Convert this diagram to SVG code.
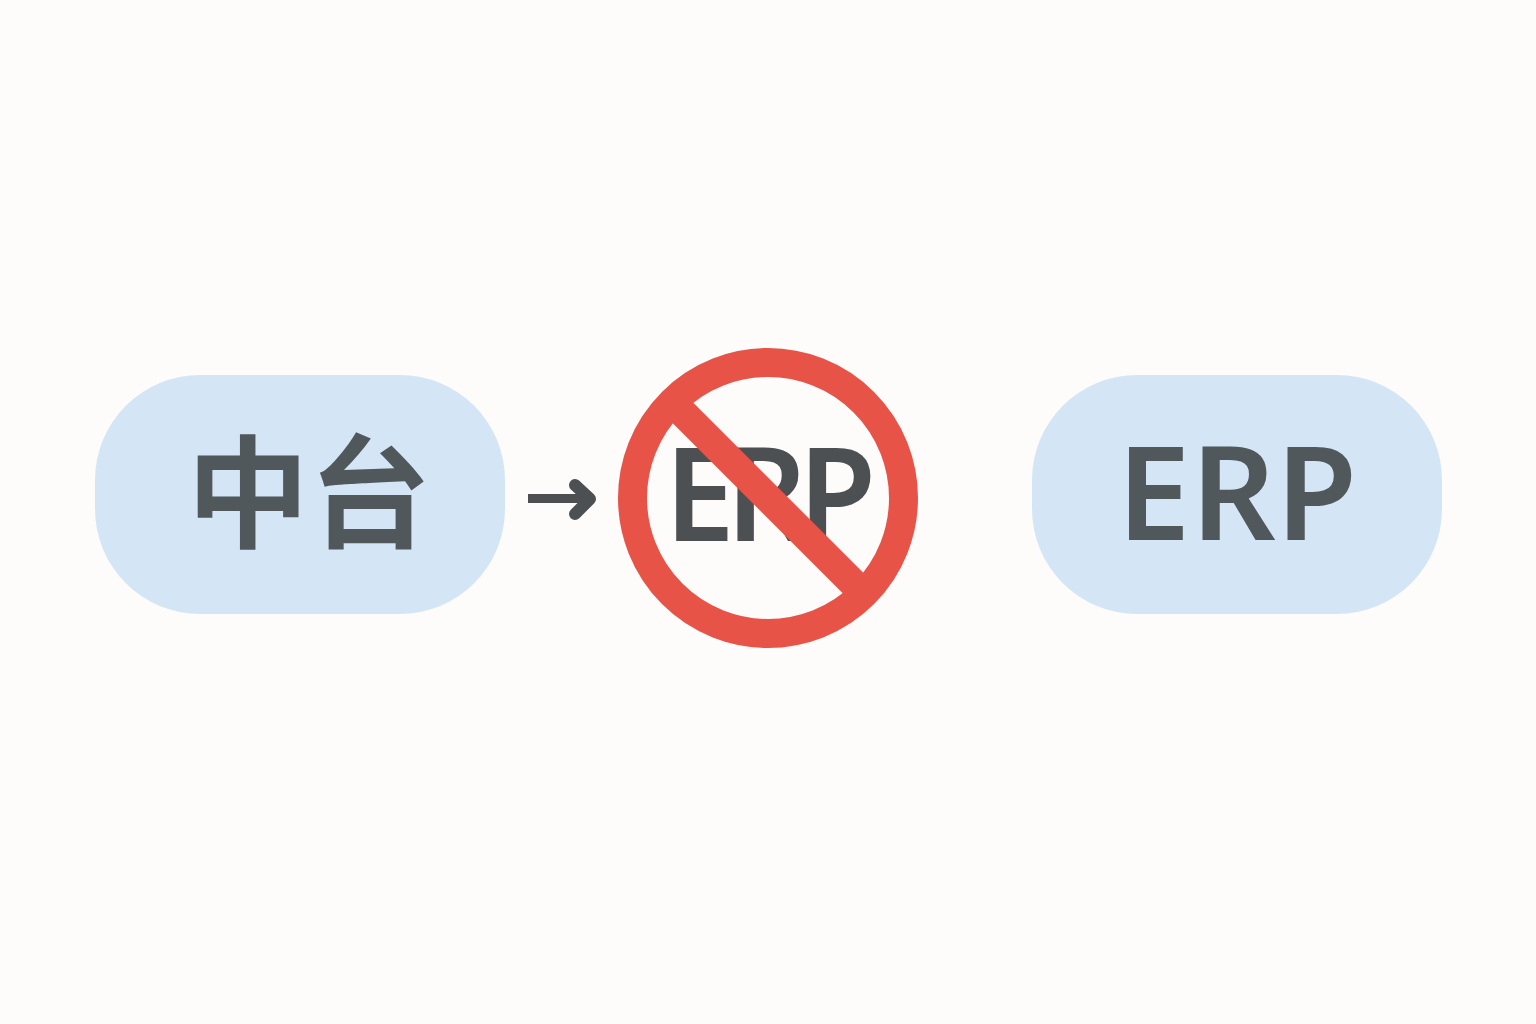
<svg xmlns="http://www.w3.org/2000/svg" width="1536" height="1024" viewBox="0 0 1536 1024">
<style>
.pill{fill:#d4e6f6}
.t{fill:#50585c;font-family:"Noto Sans","Noto Sans CJK SC",sans-serif;font-weight:600;text-anchor:middle}
.cn{font-family:"Noto Sans CJK SC",sans-serif;font-weight:700}
</style>
<rect width="1536" height="1024" fill="#fdfcfa"/>
<g id="node-zhongtai"><rect class="pill" x="95" y="375" width="410" height="239" rx="105"/><text class="t cn" x="309" y="538" font-size="122">中台</text></g>
<g id="connectors"><path d="M528 498.500H586" fill="none" stroke="#4d5052" stroke-width="9"/><path d="M575 485L590 499L575 514" fill="none" stroke="#4d5052" stroke-width="12" stroke-linecap="round" stroke-linejoin="round"/></g>
<g id="node-no-erp"><text class="t" transform="translate(766,541) scale(0.97,1)" font-size="130" letter-spacing="-9" style="fill:#4d5052">ERP</text><circle cx="768" cy="498" r="135.500" fill="none" stroke="#e85348" stroke-width="29"/><line x1="680" y1="410" x2="856" y2="586" stroke="#e85348" stroke-width="29"/></g>
<g id="node-erp"><rect class="pill" x="1032" y="375" width="410" height="239" rx="105"/><text class="t" transform="translate(1237,540) scale(1.018,1)" font-size="130">ERP</text></g>
</svg>
